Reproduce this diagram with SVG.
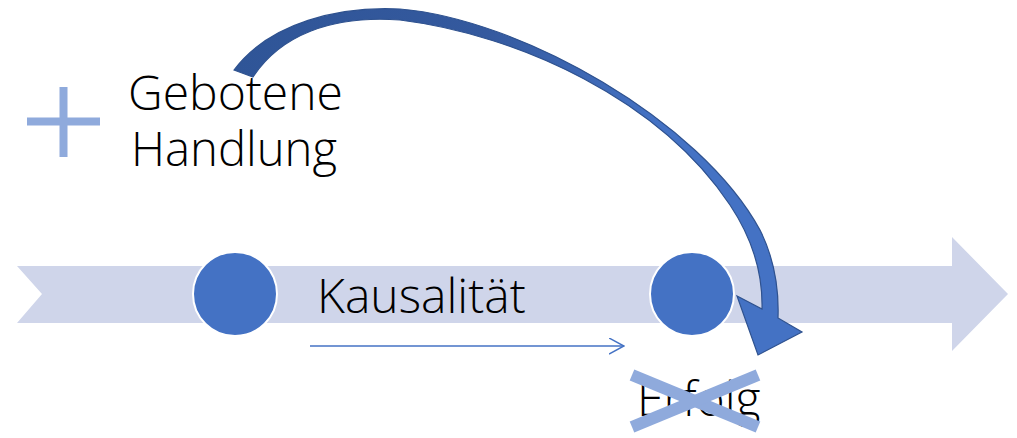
<svg xmlns="http://www.w3.org/2000/svg" width="1017" height="438" viewBox="0 0 1017 438">
<style>
.t{font-family:"Open Sans","Liberation Sans",sans-serif;font-weight:300;font-size:48px;fill:#000}
.light{fill:#8FAADC}
.dot{fill:#4472C4;stroke:#FFFFFF;stroke-width:2}
</style>
<defs>
<linearGradient id="cg" gradientUnits="userSpaceOnUse" x1="230" y1="0" x2="800" y2="0">
<stop offset="0" stop-color="#2F5597"/>
<stop offset="0.45" stop-color="#34599E"/>
<stop offset="0.75" stop-color="#4472C4"/>
<stop offset="1" stop-color="#4472C4"/>
</linearGradient>
<marker id="open" markerWidth="16" markerHeight="18" refX="15" refY="8" orient="auto" markerUnits="userSpaceOnUse">
<path d="M0,0 L15,8 L0,16" fill="none" stroke="#4472C4" stroke-width="1.5"/>
</marker>
</defs>
<g id="timeline">
<polygon points="17,266 952,266 952,237 1008,294 952,351 952,323 17,323 42,294" fill="#CFD5EA"/>
</g>
<g id="plus">
<rect class="light" x="27" y="117.5" width="73" height="8"/>
<rect class="light" x="59.5" y="87" width="8" height="70"/>
</g>
<g id="label-gebotene">
<text class="t" x="128" y="110">Gebotene</text>
<text class="t" x="131" y="166" textLength="206" lengthAdjust="spacingAndGlyphs">Handlung</text>
</g>
<g id="node-start">
<circle class="dot" cx="235" cy="294" r="42"/>
</g>
<g id="node-end">
<circle class="dot" cx="692" cy="294" r="42"/>
</g>
<g id="label-kausalitaet">
<text class="t" x="317" y="313">Kausalität</text>
</g>
<g id="label-erfolg">
<text class="t" x="637" y="416">Erfolg</text>
<g stroke="#8FAADC" stroke-width="12">
<line x1="632" y1="375" x2="758" y2="427"/>
<line x1="632" y1="427" x2="758" y2="375"/>
</g>
</g>
<g id="connectors">
<line x1="310" y1="346" x2="624" y2="346" stroke="#4472C4" stroke-width="1.5" marker-end="url(#open)"/>
<path d="M234,70 C270,22 340,6 400,9 C520,19 700,120 760,230 C775,260 779,290 778,318 L802,332 L758,355 L737,296 L762,309 C763,270 750,235 730,205 C660,100 520,35 400,20 C330,15 280,36 253,77 Z" fill="url(#cg)" stroke="#2F528F" stroke-width="1.2" stroke-linejoin="miter"/>
</g>
</svg>
